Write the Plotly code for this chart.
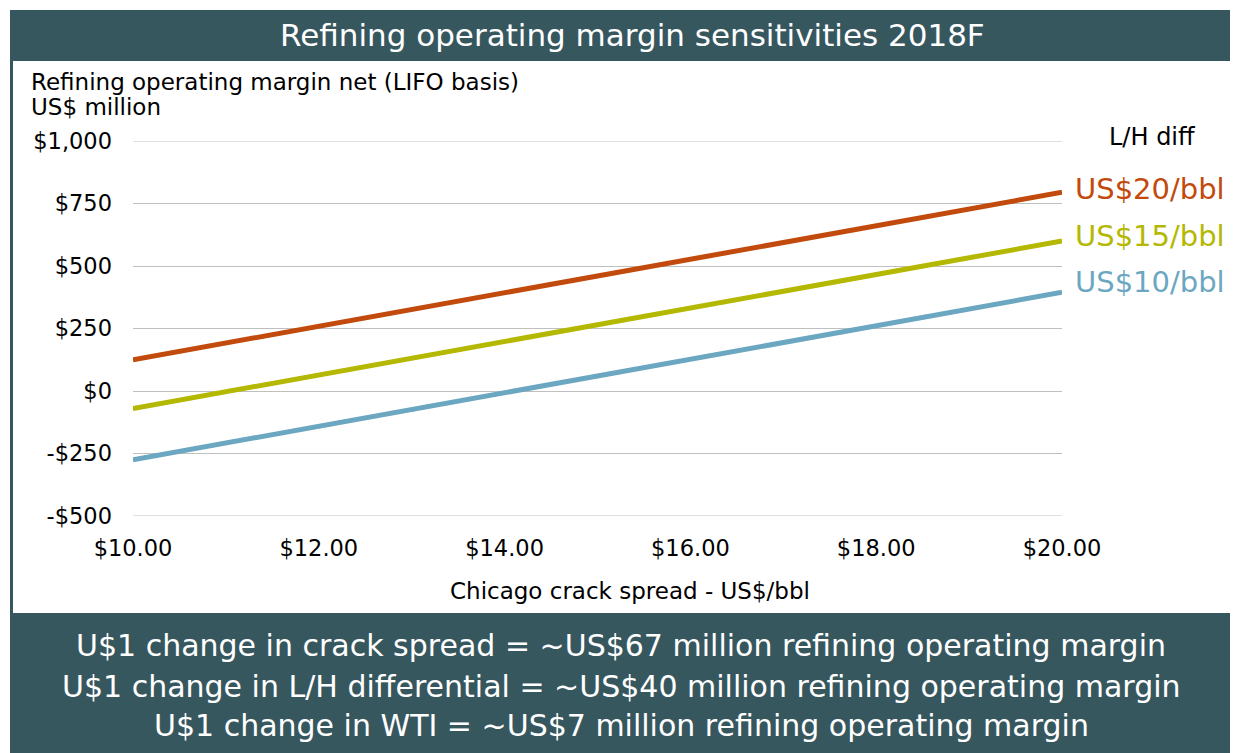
import plotly.graph_objects as go

# ---- data ----
crack_spread = [10, 20]
lh_20 = [125, 795]
lh_15 = [-70, 600]
lh_10 = [-275, 395]
series_names = ["US$20/bbl", "US$15/bbl", "US$10/bbl"]
series_colors = ["#C24A0C", "#B4B800", "#6CA7C2"]
y_tickvals = [-500, -250, 0, 250, 500, 750, 1000]
y_ticktext = ["-$500", "-$250", "$0", "$250", "$500", "$750", "$1,000"]
x_tickvals = [10, 12, 14, 16, 18, 20]
x_ticktext = ["$10.00", "$12.00", "$14.00", "$16.00", "$18.00", "$20.00"]
y_title_lines = ["Refining operating margin net (LIFO basis)", "US$ million"]
footer_lines = [
    "U$1 change in crack spread = ~US$67 million refining operating margin",
    "U$1 change in L/H differential = ~US$40 million refining operating margin",
    "U$1 change in WTI = ~US$7 million refining operating margin",
]

OFF = 8  # page body margin
W, H = 1238 - OFF, 753 - OFF
TEAL = "#37575F"
FONT = "DejaVu Sans"
GRID = "#BFBFBF"


def px(x):
    return (x - OFF) / W


def py(y):
    return 1 - (y - OFF) / H


fig = go.Figure()
for vals, name, col in zip([lh_20, lh_15, lh_10], series_names, series_colors):
    fig.add_trace(go.Scatter(x=crack_spread, y=vals, mode="lines", name=name,
                             line=dict(color=col, width=5), showlegend=False))

shapes = [
    dict(type="rect", xref="paper", yref="paper", x0=px(10), x1=1.0, y0=0.0, y1=py(10),
         fillcolor=TEAL, line=dict(width=0), layer="below"),
    dict(type="rect", xref="paper", yref="paper", x0=px(13), x1=1.0, y0=py(613), y1=py(61),
         fillcolor="white", line=dict(width=0), layer="below"),
]
for yv in [y_tickvals[0], y_tickvals[-1]]:
    shapes.append(dict(type="line", xref="x", yref="y", x0=crack_spread[0], x1=crack_spread[-1],
                       y0=yv, y1=yv, line=dict(color=GRID, width=1), layer="below"))

annotations = [
    dict(text="Refining operating margin sensitivities 2018F", x=px(632), y=py(35),
         xref="paper", yref="paper", showarrow=False, xanchor="center", yanchor="middle",
         font=dict(family=FONT, size=31, color="white")),
    dict(text="Chicago crack spread - US$/bbl", x=px(630), y=py(591),
         xref="paper", yref="paper", showarrow=False, xanchor="center", yanchor="middle",
         font=dict(family=FONT, size=23, color="black")),
    dict(text="L/H diff", x=px(1152), y=py(137),
         xref="paper", yref="paper", showarrow=False, xanchor="center", yanchor="middle",
         font=dict(family=FONT, size=24, color="black")),
]
for line, ypix in zip(y_title_lines, [82, 107]):
    annotations.append(dict(text=line, x=px(29), y=py(ypix), xref="paper", yref="paper",
                            showarrow=False, xanchor="left", yanchor="middle",
                            font=dict(family=FONT, size=23, color="black")))
for name, col, ypix in zip(series_names, series_colors, [189, 236, 282]):
    annotations.append(dict(text=name, x=px(1073), y=py(ypix), xref="paper", yref="paper",
                            showarrow=False, xanchor="left", yanchor="middle",
                            font=dict(family=FONT, size=29, color=col)))
for line, ypix in zip(footer_lines, [645, 686, 725]):
    annotations.append(dict(text=line, x=px(621), y=py(ypix), xref="paper", yref="paper",
                            showarrow=False, xanchor="center", yanchor="middle",
                            font=dict(family=FONT, size=30, color="white")))

fig.update_layout(
    width=W, height=H,
    autosize=False,
    margin=dict(l=0, r=0, t=0, b=0, pad=0, autoexpand=False),
    paper_bgcolor="white",
    plot_bgcolor="rgba(0,0,0,0)",
    shapes=shapes,
    annotations=annotations,
    xaxis=dict(domain=[px(133), px(1062)], range=[10, 20], tickvals=x_tickvals, ticktext=x_ticktext,
               showgrid=False, zeroline=False, showline=False, ticks="", automargin=False,
               ticklabelstandoff=16,
               tickfont=dict(family=FONT, size=22.5, color="black")),
    yaxis=dict(domain=[py(516), py(141)], range=[-500, 1000], tickvals=y_tickvals, ticktext=y_ticktext,
               showgrid=True, gridcolor=GRID, gridwidth=1, zeroline=False, showline=False, ticks="",
               automargin=False, ticklabelstandoff=20,
               tickfont=dict(family=FONT, size=22.5, color="black")),
)

fig.write_html("out.html")
